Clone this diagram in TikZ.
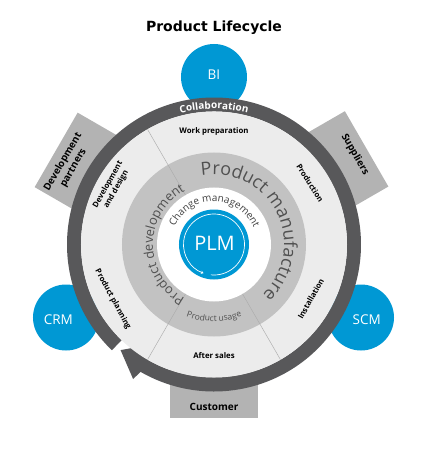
\documentclass[tikz,border=0pt]{standalone}
\usepackage{fontspec}
\setmainfont{Open Sans}
\newfontfamily\titlefont{DejaVu Sans}
\usetikzlibrary{decorations.text,arrows.meta}
\definecolor{plmblue}{RGB}{0,152,212}
\definecolor{bandc}{RGB}{88,88,90}
\definecolor{lightc}{RGB}{236,236,236}
\definecolor{midc}{RGB}{194,194,194}
\definecolor{boxc}{RGB}{179,179,179}
\definecolor{divc}{RGB}{172,172,172}
\definecolor{midtext}{RGB}{80,80,80}
\definecolor{cmtext}{RGB}{65,65,65}
\tikzset{
  boxlabel/.style={font=\bfseries\fontsize{9.8}{12}\selectfont, align=center, text=black, inner sep=0pt},
  ringlab/.style={font=\bfseries\fontsize{7.8}{9.4}\selectfont, align=center, text=black, inner sep=0pt},
  satcircle/.style={circle, fill=plmblue, minimum size=66pt, inner sep=0pt},
  sattext/.style={font=\fontsize{13.5}{14}\selectfont, text=white, inner sep=0pt},
  divline/.style={draw=divc, line width=0.45pt},
}
\begin{document}
\begin{tikzpicture}[x=1pt,y=1pt]
\useasboundingbox (-214,-210.5) rectangle (215,244.5);

% title
\node[font=\titlefont\bfseries\fontsize{14}{16}\selectfont, anchor=base] (title) at (0,212.5) {Product Lifecycle};

% grey boxes behind ring
\begin{scope}[rotate=150]
  \fill[boxc] (100,-46) rectangle (184,40);
  \node[boxlabel, rotate=60] (dev) at (166,4) {Development\\partners};
\end{scope}
\begin{scope}[rotate=30]
  \fill[boxc] (100,-37) rectangle (180,50);
  \node[boxlabel, rotate=-60] (sup) at (167,7.5) {Suppliers};
\end{scope}
\fill[boxc] (-44,-120) rectangle (44,-173);
\node[boxlabel, anchor=base, font=\bfseries\fontsize{10}{12}\selectfont] (cust) at (0,-165.5) {Customer};

% satellite circles
\node[satcircle] (bi) at (0,167.5) {};
\node[satcircle] (crm) at (-148,-73) {};
\node[satcircle] (scm) at (147,-73) {};
\node[sattext] (bit) at (0,169.5) {BI};
\node[sattext] (crmt) at (-155.7,-75.5) {CRM};
\node[sattext] (scmt) at (152.7,-75.5) {SCM};

% dark circular arrow band
\fill[bandc] (226:147) arc[start angle=226, end angle=-120, radius=147]
  -- (-121:157) -- (-131.5:141) -- (-125:124) -- (-120:133)
  arc[start angle=-120, end angle=226, radius=133] -- cycle;

% rings
\fill[lightc] (0,0) circle (133);
\fill[midc] (0,0) circle (92);
\fill[white] (0,0) circle (57);
\foreach \a in {120,240,300} \draw[divline] (\a:57) -- (\a:133);

% PLM
\node[circle, fill=plmblue, minimum size=70pt, inner sep=0pt] (plm) at (0,0) {};
\draw[white, line width=0.7pt, -{Stealth[length=2.6pt,width=3.2pt]}] (-96:30.5) arc[start angle=-96, end angle=250, radius=30.5];
\node[font=\fontsize{20}{22}\selectfont, text=white, inner sep=0pt] (plmt) at (0.5,1) {PLM};

% arc texts
\path[decorate, decoration={text along path, text align=center,
  text={|\bfseries\fontsize{10}{12}\selectfont\color{white}|Collaboration}}]
  (150:135.5) arc[start angle=150, end angle=30, radius=135.5];
\path[decorate, decoration={text along path, text align=center,
  text={|\fontsize{18}{20}\selectfont\color{midtext}|Product manufacture}}]
  (117:70) arc[start angle=117, end angle=-63, radius=70];
\path[decorate, decoration={text along path, text align=center,
  text={|\fontsize{13}{15}\selectfont\color{midtext}|Product development}}]
  (245:61) arc[start angle=245, end angle=115, radius=61];
\path[decorate, decoration={text along path, text align=center,
  text={|\fontsize{8.5}{10}\selectfont\color{midtext}|Product usage}}]
  (235:77) arc[start angle=235, end angle=305, radius=77];
\path[decorate, decoration={text along path, text align=center,
  text={|\fontsize{10}{12}\selectfont\color{cmtext}|Change management}}]
  (170:43) arc[start angle=170, end angle=8, radius=43];

% light ring labels
\node[ringlab] (wp) at (0,113.5) {Work preparation};
\node[ringlab, rotate=-57.4] (prod) at (32.6:114) {Production};
\node[ringlab, rotate=60.7] (inst) at (-29.3:111) {Installation};
\node[ringlab] (as) at (0,-111.5) {After sales};
\node[ringlab, rotate=-61.6] (pp) at (208.4:115) {Product planning};
\node[ringlab, rotate=60.6] (dd) at (150.6:117) {Development\\and design};
\end{tikzpicture}
\end{document}
